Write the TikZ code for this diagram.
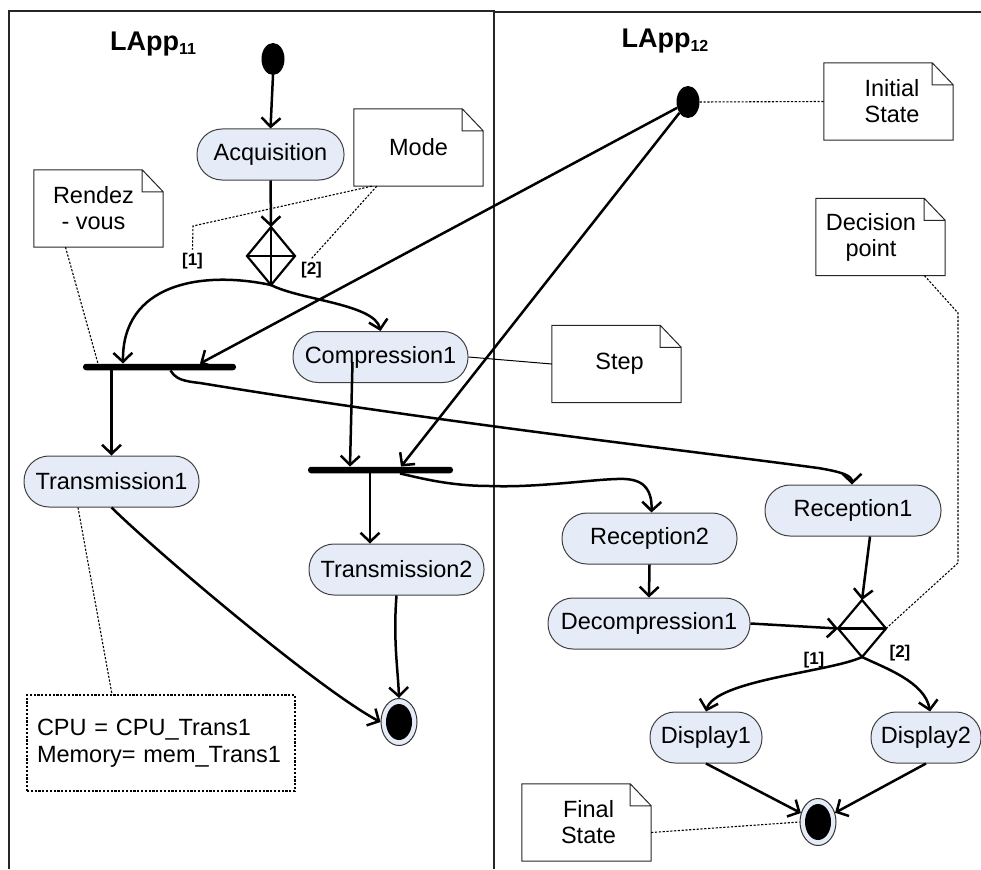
\documentclass[tikz,border=0pt]{standalone}
\usepackage{fontspec}
\setmainfont{Liberation Sans}
\usetikzlibrary{arrows.meta,shapes.geometric,calc}
\definecolor{pillfill}{HTML}{E6ECF7}
\newcommand\mknote[3]{%
  \node[notebox] (#1) at #2 {#3};
  \draw[noteline] (#1.north west) -- ([xshift=-21pt]#1.north east) -- ([yshift=-22pt]#1.north east) -- (#1.south east) -- (#1.south west) -- cycle
    ([xshift=-21pt]#1.north east) |- ([yshift=-22pt]#1.north east);}
\begin{document}
\begin{tikzpicture}[x=1pt,y=-1pt,
  font=\fontsize{23.5}{26}\selectfont,
  frame/.style={line width=1.5pt, draw=black!85},
  act/.style={draw=black!75, line width=1pt, fill=pillfill, rounded corners=25pt, minimum height=51pt, inner sep=0pt},
  notebox/.style={minimum width=129pt, minimum height=77pt, inner sep=0pt, align=center},
  noteline/.style={line width=1pt, draw=black!85},
  initst/.style={ellipse, fill=black, minimum width=23pt, minimum height=32pt, inner sep=0pt},
  finst/.style={ellipse, draw=black!80, fill=pillfill, line width=1pt, minimum width=36pt, minimum height=47pt, inner sep=0pt},
  finin/.style={ellipse, fill=black, minimum width=26pt, minimum height=36pt, inner sep=0pt},
  decis/.style={diamond, draw, line width=2.2pt, inner sep=0pt, outer sep=0pt, minimum width=48pt, minimum height=58pt},
  syncbar/.style={rectangle, fill=black, minimum height=6.5pt, inner sep=0pt, rounded corners=3pt},
  lbl/.style={font=\fontsize{17}{17}\selectfont\bfseries},
  conn/.style={line width=2.5pt, -{Straight Barb[length=9pt,width=19pt]}},
  thinline/.style={line width=1pt},
  dotline/.style={line width=1.1pt, dash pattern=on 2.2pt off 1.6pt},
  ttl/.style={font=\fontsize{27}{28}\selectfont\bfseries}
]
\useasboundingbox (0,0) rectangle (981,869);
% frames
\draw[frame] (9,869) -- (9,11) -- (494,11) -- (494,869);
\draw[frame] (495,12) -- (981,12);
% titles
\node[ttl] (t1) at (153,44) {LApp\raisebox{-4pt}{\fontsize{16}{16}\selectfont\bfseries 11}};
\node[ttl] (t2) at (665,41) {LApp\raisebox{-4pt}{\fontsize{16}{16}\selectfont\bfseries 12}};
% notes
\mknote{mode}{(418.5,147.5)}{Mode}
\mknote{rv}{(98.5,208.5)}{Rendez\hspace*{10pt}\\- vous\hspace*{10pt}}
\mknote{initn}{(888.5,101.5)}{\hspace*{7pt}Initial\\\hspace*{7pt}State}
\mknote{decn}{(880.5,237)}{Decision\hspace*{19pt}\\point\hspace*{19pt}}
\mknote{stepn}{(616.5,364)}{\hspace*{6pt}Step}
\mknote{finn}{(586.5,822.5)}{\hspace*{4pt}Final\\\hspace*{4pt}State}
% activities
\node[act, minimum width=147pt] (acq) at (270.5,154.5) {Acquisition};
\node[act, minimum width=175pt] (comp) at (380.5,357) {Compression1};
\node[act, minimum width=175pt] (trans1) at (111.5,481.5) {Transmission1};
\node[act, minimum width=175pt] (trans2) at (396.5,569.5) {Transmission2};
\node[act, minimum width=176pt] (rec1) at (853,510.5) {Reception1};
\node[act, minimum width=175pt] (rec2) at (649.5,538.5) {Reception2};
\node[act, minimum width=202pt] (dec) at (649,623.5) {Decompression1};
\node[act, minimum width=112pt] (disp1) at (706,737.5) {Display1};
\node[act, minimum width=110pt] (disp2) at (926,737.5) {Display2};
% states
\node[initst] (i1) at (273,59) {};
\node[initst] (i2) at (688,102) {};
\node[finst] (f1) at (399,722) {};
\node[finin] (f1in) at (f1) {};
\node[finst] (f2) at (818,822) {};
\node[finin] (f2in) at (f2) {};
% decisions
\node[decis] (d1) at (271,256) {};
\draw[line width=2.2pt] (d1.north) -- (d1.south) (d1.west) -- (d1.east);
\node[decis, minimum height=57pt] (d2) at (862,628.5) {};
\draw[line width=2.2pt] (d2.west) -- (d2.east);
% sync bars
\node[syncbar, minimum width=153pt] (b1) at (159.5,367) {};
\node[syncbar, minimum width=145pt] (b2) at (380.5,470) {};
\coordinate (b1a) at ([xshift=-48pt]b1.south);
\coordinate (b2a) at ([xshift=-10.5pt]b2.south);
% labels
\node[lbl] (l1) at (192.5,261) {[1]};
\node[lbl] (l2) at (311.5,270) {[2]};
\node[lbl] (l3) at (814,660) {[1]};
\node[lbl] (l4) at (900,653) {[2]};
% cpu box
\node[dotline, draw, text width=248pt, inner sep=10pt, minimum height=96pt, align=left,
      font=\fontsize{23.5}{27}\selectfont] (cpu) at (161,743) {CPU = CPU\_Trans1\\Memory= mem\_Trans1};
% connectors
\draw[conn] (i1.south) -- (acq.north);
\draw[conn] (acq.south) -- (d1.north);
\draw[conn] (d1.south) .. controls +(-71,-15) and +(-1,-79) .. ([xshift=-36.5pt]b1.north);
\draw[conn] (d1.south) .. controls +(29,15) and +(-6,-27) .. (comp.north);
\draw[conn] (i2) -- ([xshift=40.5pt]b1.north);
\draw[conn] (i2) -- ([xshift=20.5pt]b2.north);
\draw[conn] ([shift={(-28pt,-5pt)}]comp.center) -- ([xshift=-30.5pt]b2.north);
\draw[conn] (b1a) -- (trans1.north -| b1a);
\draw[conn] ([xshift=11pt]b1.south) .. controls (176,379) and (182,381) .. (200,383)
   .. controls (450,424) and (700,452) .. (818,468) .. controls (843,472) and (852,476) .. ([xshift=-1pt]rec1.north);
\draw[conn] (b2a) -- (trans2.north -| b2a);
\draw[conn] ([xshift=19.5pt]b2.south) .. controls (420,478) and (450,486) .. (490,486)
   .. controls (540,488) and (600,478) .. (625,479) .. controls (646,480) and (652,492) .. ([xshift=2pt]rec2.north);
\draw[conn] (rec2.south) -- (dec.north);
\draw[conn] (dec.east) -- (d2.west);
\draw[conn] ([xshift=17pt]rec1.south) -- (d2.north);
\draw[conn] (d2.south) .. controls (830,672) and (715,680) .. (disp1.north);
\draw[conn] (d2.south) .. controls (885,668) and (925,682) .. ([xshift=4pt]disp2.north);
\draw[conn] (disp1.south) -- (f2);
\draw[conn] (disp2.south) -- (f2);
\draw[conn] (trans1.south) .. controls (160,555) and (320,690) .. (f1.west);
\draw[conn] (trans2.south) .. controls (393,640) and (398,670) .. (f1.north);
\draw[thinline] (comp.east) -- (stepn.west);
% dotted note links
\draw[dotline] ([xshift=18pt]mode.south west) -- (193,226) -- (l1.north);
\draw[dotline] ([xshift=23pt]mode.south west) -- (l2.north);
\draw[dotline] ([xshift=-33pt]rv.south) -- ([xshift=-61.5pt]b1.north);
\draw[dotline] (i2.east) -- (initn.west);
\draw[dotline] ([xshift=44pt]decn.south) -- (958,313) -- (958,563) -- (d2.east);
\draw[dotline] ([xshift=-33.5pt]trans1.south) -- ([xshift=-49pt]cpu.north);
\draw[dotline] ([yshift=-10pt]finn.east) -- (f2.west);
\end{tikzpicture}
\end{document}
